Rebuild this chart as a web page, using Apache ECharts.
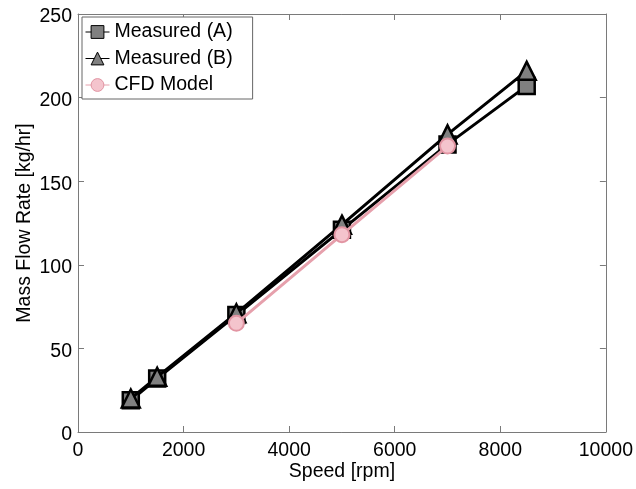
<!DOCTYPE html>
<html><head><meta charset="utf-8">
<script src="https://cdn.jsdelivr.net/npm/echarts@6/dist/echarts.min.js"></script>
<style>html,body{margin:0;padding:0;background:#fff}#c{width:636px;height:489px}</style>
</head><body><div id="c"></div>
<script>
const speed = [1000, 1500, 3000, 5000, 7000, 8500];
const measuredA = [19, 32, 70, 121, 172, 207];
const measuredB = [20, 33, 71, 124, 178, 216];
const cfdSpeed = [3000, 5000, 7000];
const cfdModel = [65, 118, 171];
const seriesNames = ['Measured (A)', 'Measured (B)', 'CFD Model'];

const FONT = 'Liberation Sans, Arial, Helvetica, sans-serif';
const FS = 19.5;
const axisGray = '#7a7a7a';

function pairs(xs, ys) { return xs.map((x, i) => [x, ys[i]]); }

const chart = echarts.init(document.getElementById('c'), null, {renderer: 'canvas'});
const baseX = {
  type: 'value', min: 0, max: 10000, interval: 2000,
  axisLine: {show: true, onZero: false, lineStyle: {color: axisGray, width: 1}},
  axisTick: {show: true, inside: true, length: 6, lineStyle: {color: axisGray}},
  splitLine: {show: false}
};
const baseY = {
  type: 'value', min: 0, max: 250, interval: 50,
  axisLine: {show: true, onZero: false, lineStyle: {color: axisGray, width: 1}},
  axisTick: {show: true, inside: true, length: 6, lineStyle: {color: axisGray}},
  splitLine: {show: false}
};
chart.setOption({
  animation: false,
  backgroundColor: '#fff',
  textStyle: {fontFamily: FONT},
  grid: {left: 78, right: 29, top: 14, bottom: 57, containLabel: false},
  legend: {
    orient: 'vertical', left: 82, top: 17,
    data: seriesNames,
    backgroundColor: '#fff', borderColor: '#666', borderWidth: 1,
    padding: [5, 20, 4, 3],
    itemWidth: 24, itemHeight: 16, itemGap: 6.5,
    textStyle: {fontFamily: FONT, fontSize: FS, color: '#000', lineHeight: 20},
    lineStyle: {width: 1},
    itemStyle: {borderWidth: 1}
  },
  xAxis: [
    Object.assign({}, baseX, {
      position: 'bottom',
      name: 'Speed [rpm]', nameLocation: 'middle', nameGap: 30, nameMoveOverlap: false,
      nameTextStyle: {fontFamily: FONT, fontSize: FS, color: '#000'},
      axisLabel: {show: true, margin: 9, fontFamily: FONT, fontSize: FS, color: '#000',
        formatter: v => String(v)}
    }),
    Object.assign({}, baseX, {position: 'top', axisLabel: {show: false}})
  ],
  yAxis: [
    Object.assign({}, baseY, {
      position: 'left',
      name: 'Mass Flow Rate [kg/hr]', nameLocation: 'middle', nameGap: 43, nameRotate: 90,
      nameMoveOverlap: false,
      nameTextStyle: {fontFamily: FONT, fontSize: FS, color: '#000'},
      axisLabel: {show: true, margin: 6, fontFamily: FONT, fontSize: FS, color: '#000',
        verticalAlign: 'top', lineHeight: 6, formatter: v => String(v)}
    }),
    Object.assign({}, baseY, {position: 'right', axisLabel: {show: false}})
  ],
  series: [
    {
      name: seriesNames[0], type: 'line', data: pairs(speed, measuredA),
      symbol: 'rect', symbolSize: 16,
      itemStyle: {color: '#808080', borderColor: '#000', borderWidth: 2.5},
      lineStyle: {color: '#000', width: 3}, z: 2
    },
    {
      name: seriesNames[1], type: 'line', data: pairs(speed, measuredB),
      symbol: 'triangle', symbolSize: 18,
      itemStyle: {color: '#808080', borderColor: '#000', borderWidth: 2.5},
      lineStyle: {color: '#000', width: 3}, z: 3
    },
    {
      name: seriesNames[2], type: 'line', data: pairs(cfdSpeed, cfdModel),
      symbol: 'circle', symbolSize: 15,
      itemStyle: {color: '#f4c4cd', borderColor: '#e295a3', borderWidth: 2},
      lineStyle: {color: '#e6a0ac', width: 3}, z: 4
    }
  ]
});
</script></body></html>
